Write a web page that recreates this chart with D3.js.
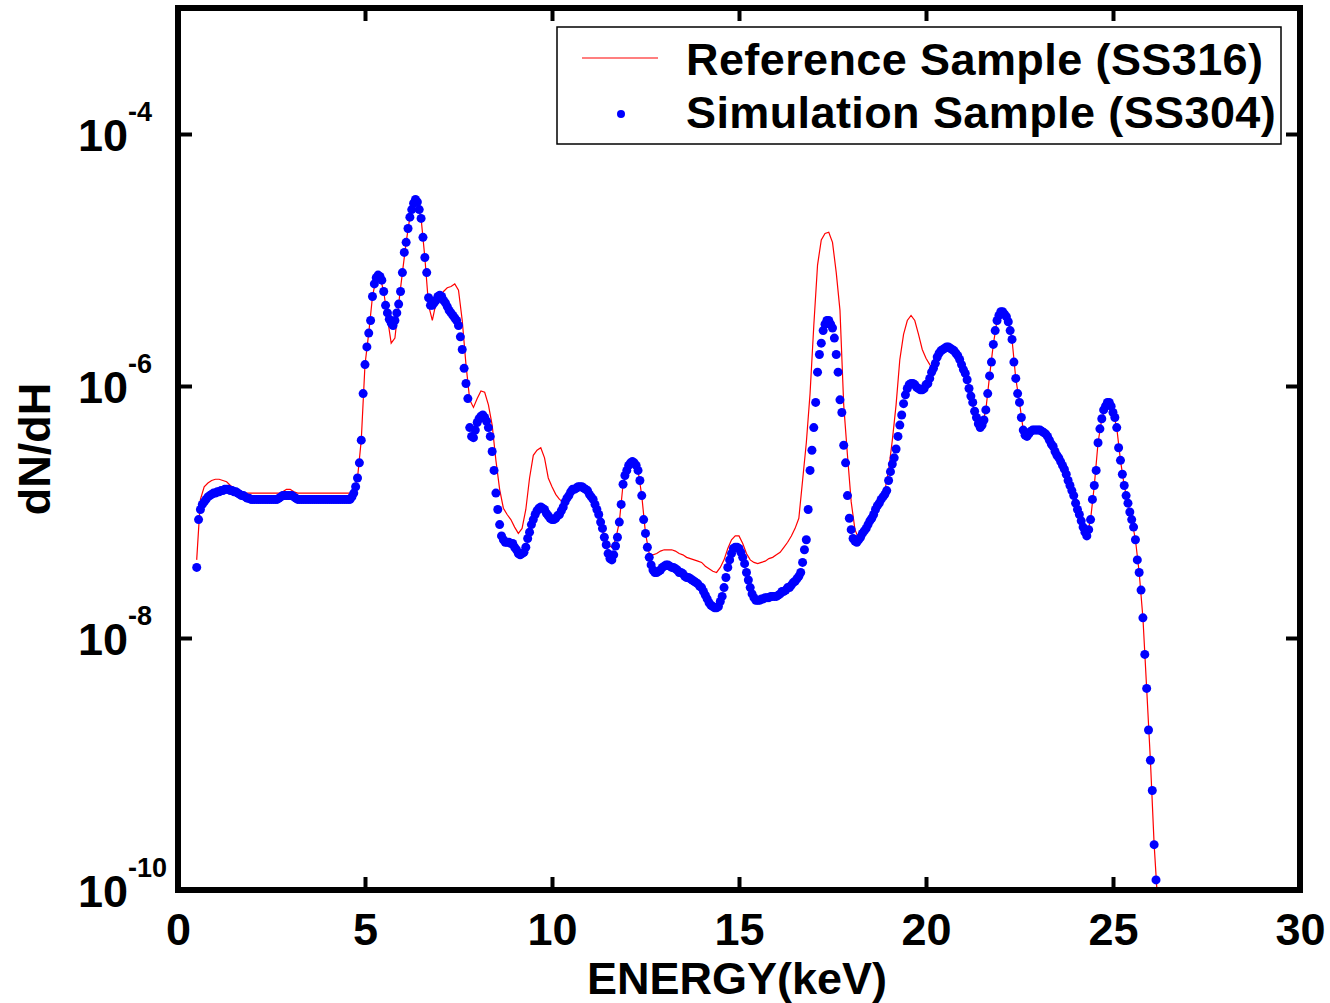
<!DOCTYPE html>
<html>
<head>
<meta charset="utf-8">
<script src="https://cdn.jsdelivr.net/npm/d3@7"></script>
<style>
body { margin: 0; background: #fff; }
text { font-family: Arial, "Liberation Sans", sans-serif; font-weight: bold; }
</style>
</head>
<body>
<div id="chart-area"></div>
<script>
// simulation sample (blue dots): log10(dN/dH), 0.05 keV channels from 0.50 keV, one row per keV
var simStart = 0.5, simStep = 0.05;
var simLog = [
  -7.44,-7.06,-6.98,-6.94,-6.92,-6.90,-6.88,-6.87,-6.86,-6.85,-6.85,-6.84,-6.84,-6.83,-6.83,-6.82,-6.82,-6.82,-6.83,-6.83, // 0.5
  -6.84,-6.84,-6.85,-6.86,-6.87,-6.87,-6.88,-6.89,-6.89,-6.90,-6.90,-6.90,-6.90,-6.90,-6.90,-6.90,-6.90,-6.90,-6.90,-6.90, // 1.5
  -6.90,-6.90,-6.90,-6.90,-6.89,-6.88,-6.87,-6.87,-6.87,-6.87,-6.87,-6.87,-6.88,-6.89,-6.90,-6.90,-6.90,-6.90,-6.90,-6.90, // 2.5
  -6.90,-6.90,-6.90,-6.90,-6.90,-6.90,-6.90,-6.90,-6.90,-6.90,-6.90,-6.90,-6.90,-6.90,-6.90,-6.90,-6.90,-6.90,-6.90,-6.90, // 3.5
  -6.90,-6.90,-6.90,-6.88,-6.85,-6.80,-6.73,-6.61,-6.43,-6.06,-5.83,-5.69,-5.58,-5.48,-5.29,-5.19,-5.14,-5.12,-5.13,-5.16, // 4.5
  -5.25,-5.36,-5.42,-5.47,-5.50,-5.52,-5.48,-5.42,-5.35,-5.25,-5.10,-4.94,-4.86,-4.75,-4.66,-4.60,-4.55,-4.52,-4.54,-4.60, // 5.5
  -4.67,-4.82,-4.98,-5.10,-5.30,-5.36,-5.36,-5.34,-5.32,-5.29,-5.28,-5.29,-5.32,-5.34,-5.37,-5.40,-5.42,-5.44,-5.46,-5.48, // 6.5
  -5.52,-5.61,-5.71,-5.86,-5.98,-6.10,-6.33,-6.40,-6.41,-6.35,-6.29,-6.26,-6.24,-6.23,-6.25,-6.28,-6.33,-6.40,-6.52,-6.67, // 7.5
  -6.85,-6.98,-7.10,-7.19,-7.22,-7.24,-7.24,-7.24,-7.25,-7.25,-7.28,-7.30,-7.33,-7.34,-7.33,-7.32,-7.28,-7.21,-7.16,-7.10, // 8.5
  -7.06,-7.02,-6.99,-6.97,-6.96,-6.97,-6.98,-7.01,-7.03,-7.05,-7.06,-7.06,-7.05,-7.03,-7.02,-6.99,-6.96,-6.92,-6.89,-6.87, // 9.5
  -6.84,-6.82,-6.82,-6.81,-6.80,-6.80,-6.80,-6.81,-6.82,-6.83,-6.86,-6.88,-6.90,-6.94,-6.98,-7.02,-7.08,-7.13,-7.20,-7.26, // 10.5
  -7.33,-7.37,-7.38,-7.34,-7.27,-7.20,-7.08,-6.94,-6.78,-6.71,-6.67,-6.63,-6.61,-6.60,-6.61,-6.63,-6.67,-6.75,-6.87,-7.06, // 11.5
  -7.17,-7.28,-7.36,-7.42,-7.46,-7.48,-7.48,-7.47,-7.46,-7.44,-7.43,-7.42,-7.42,-7.43,-7.44,-7.44,-7.45,-7.46,-7.48,-7.48, // 12.5
  -7.49,-7.51,-7.52,-7.52,-7.53,-7.54,-7.55,-7.56,-7.57,-7.59,-7.60,-7.63,-7.66,-7.69,-7.72,-7.74,-7.75,-7.76,-7.76,-7.75, // 13.5
  -7.71,-7.67,-7.60,-7.52,-7.44,-7.38,-7.33,-7.29,-7.28,-7.28,-7.29,-7.32,-7.36,-7.41,-7.48,-7.54,-7.60,-7.65,-7.68,-7.70, // 14.5
  -7.70,-7.70,-7.69,-7.69,-7.68,-7.68,-7.68,-7.67,-7.67,-7.67,-7.67,-7.66,-7.65,-7.63,-7.63,-7.62,-7.60,-7.60,-7.58,-7.56, // 15.5
  -7.55,-7.53,-7.51,-7.48,-7.40,-7.30,-7.22,-6.98,-6.67,-6.51,-6.33,-6.13,-5.89,-5.75,-5.66,-5.56,-5.51,-5.48,-5.48,-5.51, // 16.5
  -5.54,-5.62,-5.75,-5.89,-6.11,-6.21,-6.47,-6.61,-6.87,-7.05,-7.14,-7.21,-7.23,-7.24,-7.22,-7.20,-7.17,-7.15,-7.13,-7.10, // 17.5
  -7.07,-7.05,-7.02,-6.98,-6.95,-6.93,-6.90,-6.88,-6.86,-6.83,-6.75,-6.68,-6.62,-6.57,-6.50,-6.40,-6.31,-6.23,-6.14,-6.07, // 18.5
  -6.02,-5.99,-5.98,-5.98,-5.99,-6.01,-6.02,-6.03,-6.03,-6.02,-5.99,-5.98,-5.94,-5.89,-5.86,-5.82,-5.77,-5.74,-5.72,-5.71, // 19.5
  -5.70,-5.69,-5.69,-5.70,-5.71,-5.72,-5.74,-5.76,-5.79,-5.83,-5.87,-5.90,-5.95,-6.02,-6.08,-6.13,-6.20,-6.25,-6.30,-6.33, // 20.5
  -6.31,-6.27,-6.19,-6.06,-5.92,-5.81,-5.67,-5.56,-5.48,-5.44,-5.41,-5.41,-5.43,-5.45,-5.49,-5.56,-5.63,-5.81,-5.94,-6.06, // 21.5
  -6.13,-6.25,-6.35,-6.39,-6.40,-6.38,-6.36,-6.35,-6.35,-6.35,-6.35,-6.35,-6.36,-6.37,-6.38,-6.40,-6.43,-6.46,-6.48,-6.52, // 22.5
  -6.55,-6.57,-6.60,-6.63,-6.66,-6.70,-6.75,-6.79,-6.83,-6.87,-6.93,-6.98,-7.02,-7.07,-7.12,-7.16,-7.19,-7.14,-7.06,-6.90, // 23.5
  -6.79,-6.67,-6.45,-6.34,-6.26,-6.19,-6.16,-6.13,-6.13,-6.16,-6.21,-6.25,-6.33,-6.49,-6.59,-6.70,-6.79,-6.87,-6.93,-7.00, // 24.5
  -7.06,-7.12,-7.22,-7.38,-7.48,-7.62,-7.84,-8.13,-8.40,-8.73,-8.97,-9.21,-9.64,-9.92                                      // 25.5
];

// reference sample (red line): log10(dN/dH), 0.1 keV channels from 0.5 keV
var refStart = 0.5, refStep = 0.1;
var refLog = [
  -7.38,-6.90,-6.80,-6.77,-6.75,-6.74,-6.74,-6.75,-6.76,-6.79, // 0.5
  -6.81,-6.82,-6.84,-6.85,-6.85,-6.85,-6.85,-6.85,-6.85,-6.85, // 1.5
  -6.85,-6.85,-6.85,-6.84,-6.82,-6.82,-6.84,-6.85,-6.85,-6.85, // 2.5
  -6.85,-6.85,-6.85,-6.85,-6.85,-6.85,-6.85,-6.85,-6.85,-6.85, // 3.5
  -6.85,-6.85,-6.83,-6.73,-6.43,-5.83,-5.58,-5.29,-5.14,-5.13, // 4.5
  -5.25,-5.46,-5.66,-5.62,-5.35,-5.10,-4.86,-4.66,-4.55,-4.54, // 5.5
  -4.67,-4.98,-5.36,-5.48,-5.34,-5.29,-5.25,-5.22,-5.21,-5.19, // 6.5
  -5.24,-5.48,-5.83,-6.11,-6.17,-6.10,-6.04,-6.05,-6.15,-6.31, // 7.5
  -6.59,-6.82,-6.97,-7.02,-7.06,-7.12,-7.17,-7.13,-6.98,-6.73, // 8.5
  -6.55,-6.51,-6.49,-6.57,-6.73,-6.80,-6.86,-6.90,-6.92,-6.89, // 9.5
  -6.84,-6.82,-6.80,-6.80,-6.82,-6.86,-6.90,-6.98,-7.08,-7.18, // 10.5
  -7.26,-7.28,-7.22,-7.08,-6.78,-6.67,-6.61,-6.61,-6.67,-6.87, // 11.5
  -7.17,-7.33,-7.34,-7.33,-7.31,-7.30,-7.30,-7.30,-7.31,-7.33, // 12.5
  -7.34,-7.36,-7.37,-7.38,-7.39,-7.40,-7.43,-7.45,-7.47,-7.48, // 13.5
  -7.44,-7.38,-7.29,-7.22,-7.19,-7.19,-7.25,-7.33,-7.38,-7.40, // 14.5
  -7.41,-7.40,-7.39,-7.37,-7.36,-7.34,-7.32,-7.28,-7.24,-7.19, // 15.5
  -7.13,-7.05,-6.75,-6.45,-6.06,-5.52,-5.04,-4.84,-4.79,-4.78, // 16.5
  -4.86,-5.10,-5.40,-6.15,-6.55,-6.92,-7.14,-7.21,-7.17,-7.13, // 17.5
  -7.07,-7.02,-6.95,-6.90,-6.83,-6.67,-6.43,-6.15,-5.79,-5.59, // 18.5
  -5.48,-5.44,-5.48,-5.59,-5.71,-5.78,-5.83,-5.86,-5.77,-5.72, // 19.5
  -5.70,-5.69,-5.71,-5.74,-5.79,-5.87,-5.95,-6.08,-6.20,-6.30, // 20.5
  -6.31,-6.19,-5.92,-5.67,-5.48,-5.41,-5.43,-5.49,-5.63,-5.94, // 21.5
  -6.13,-6.35,-6.40,-6.36,-6.35,-6.35,-6.36,-6.38,-6.43,-6.48, // 22.5
  -6.55,-6.60,-6.66,-6.75,-6.83,-6.93,-7.02,-7.12,-7.19,-7.06, // 23.5
  -6.79,-6.45,-6.26,-6.16,-6.13,-6.21,-6.33,-6.59,-6.79,-6.93, // 24.5
  -7.06,-7.22,-7.48,-7.84,-8.40,-8.97,-9.64,-10.12              // 25.5
];

var xTicks = [0, 5, 10, 15, 20, 25, 30];
var yTicks = [1e-10, 1e-8, 1e-6, 1e-4];
var yExps = ["-10", "-8", "-6", "-4"];
var seriesNames = ["Reference Sample (SS316)", "Simulation Sample (SS304)"];
var xTitle = "ENERGY(keV)";
var yTitle = "dN/dH";

var refData = refLog.map((v, i) => ({ e: +(refStart + i * refStep).toFixed(2), v: Math.pow(10, v) }));
var simData = simLog.map((v, i) => ({ e: +(simStart + i * simStep).toFixed(2), v: Math.pow(10, v) }));

var margin = {top: 8, right: 30, bottom: 113, left: 178};
var width = 1330 - margin.left - margin.right;
var height = 1003 - margin.top - margin.bottom;
var font = "Arial, 'Liberation Sans', sans-serif";

var svg = d3.select("#chart-area")
  .append("svg")
    .attr("width", 1330)
    .attr("height", 1003);

svg.append("rect").attr("width", 1330).attr("height", 1003).attr("fill", "white");

var g = svg.append("g")
    .attr("transform", "translate(" + margin.left + ", " + margin.top + ")");

var x = d3.scaleLinear().domain([0, 30]).range([0, width]);
var y = d3.scaleLog().domain([1e-10, 1e-3]).range([height, 0]);

g.append("clipPath").attr("id", "plot-clip")
  .append("rect").attr("width", width).attr("height", height);

var plot = g.append("g").attr("clip-path", "url(#plot-clip)");

var line = d3.line().x((d) => x(d.e)).y((d) => y(d.v));

plot.append("path")
    .datum(refData)
    .attr("d", line)
    .attr("fill", "none")
    .attr("stroke", "#ff0000")
    .attr("stroke-width", 1.2);

plot.selectAll("circle").data(simData)
  .enter().append("circle")
    .attr("cx", (d) => x(d.e))
    .attr("cy", (d) => y(d.v))
    .attr("r", 4.5)
    .attr("fill", "#0000ff");

// axes, MATLAB style: ticks pointing inward on all four sides
function styleAxis(sel) {
  sel.select(".domain").remove();
  sel.selectAll(".tick line").attr("stroke", "black").attr("stroke-width", 4);
  sel.attr("font-family", font).attr("font-size", 45).attr("font-weight", "bold");
}

var xAxisGroup = g.append("g")
    .attr("transform", "translate(0, " + height + ")")
    .call(d3.axisBottom(x).tickValues(xTicks).tickSizeInner(-13).tickSizeOuter(0).tickPadding(23).tickFormat(d3.format("d")));
styleAxis(xAxisGroup);
xAxisGroup.selectAll("text").attr("fill", "black");

var yAxisGroup = g.append("g")
    .call(d3.axisLeft(y).tickValues(yTicks).tickSizeInner(-14).tickSizeOuter(0).tickFormat(() => ""));
styleAxis(yAxisGroup);
yAxisGroup.selectAll(".tick").each(function(d, i) {
  var t = d3.select(this).select("text")
      .attr("x", -100).attr("y", 16).attr("dy", null)
      .attr("text-anchor", "start").attr("fill", "black")
      .text(null);
  t.append("tspan").text("10");
  t.append("tspan").attr("dy", -30).attr("font-size", 27).text(yExps[i]);
});

var topAxis = g.append("g")
    .call(d3.axisTop(x).tickValues(xTicks).tickSizeInner(-13).tickSizeOuter(0).tickFormat(() => ""));
styleAxis(topAxis);

var rightAxis = g.append("g")
    .attr("transform", "translate(" + width + ", 0)")
    .call(d3.axisRight(y).tickValues(yTicks).tickSizeInner(-14).tickSizeOuter(0).tickFormat(() => ""));
styleAxis(rightAxis);

g.append("rect")
    .attr("width", width)
    .attr("height", height)
    .attr("fill", "none")
    .attr("stroke", "black")
    .attr("stroke-width", 6);

svg.append("text")
    .attr("x", 737)
    .attr("y", 994)
    .attr("text-anchor", "middle")
    .attr("font-size", "45px")
    .attr("fill", "black")
    .text(xTitle);

svg.append("text")
    .attr("transform", "translate(50, 449) rotate(-90)")
    .attr("text-anchor", "middle")
    .attr("font-size", "45px")
    .attr("fill", "black")
    .text(yTitle);

// legend
var legend = svg.append("g");
legend.append("rect")
    .attr("x", 557).attr("y", 27)
    .attr("width", 724).attr("height", 117)
    .attr("fill", "white")
    .attr("stroke", "black")
    .attr("stroke-width", 1.5);
legend.append("line")
    .attr("x1", 582).attr("x2", 658)
    .attr("y1", 58).attr("y2", 58)
    .attr("stroke", "#ff0000")
    .attr("stroke-width", 1.2);
legend.append("circle")
    .attr("cx", 621).attr("cy", 114)
    .attr("r", 4)
    .attr("fill", "#0000ff");
legend.selectAll("text.legend").data(seriesNames)
  .enter().append("text")
    .attr("class", "legend")
    .attr("x", 686)
    .attr("y", (d, i) => 75 + i * 53)
    .attr("font-size", "45px")
    .attr("letter-spacing", "0.4px")
    .attr("fill", "black")
    .text((d) => d);
</script>
</body>
</html>
